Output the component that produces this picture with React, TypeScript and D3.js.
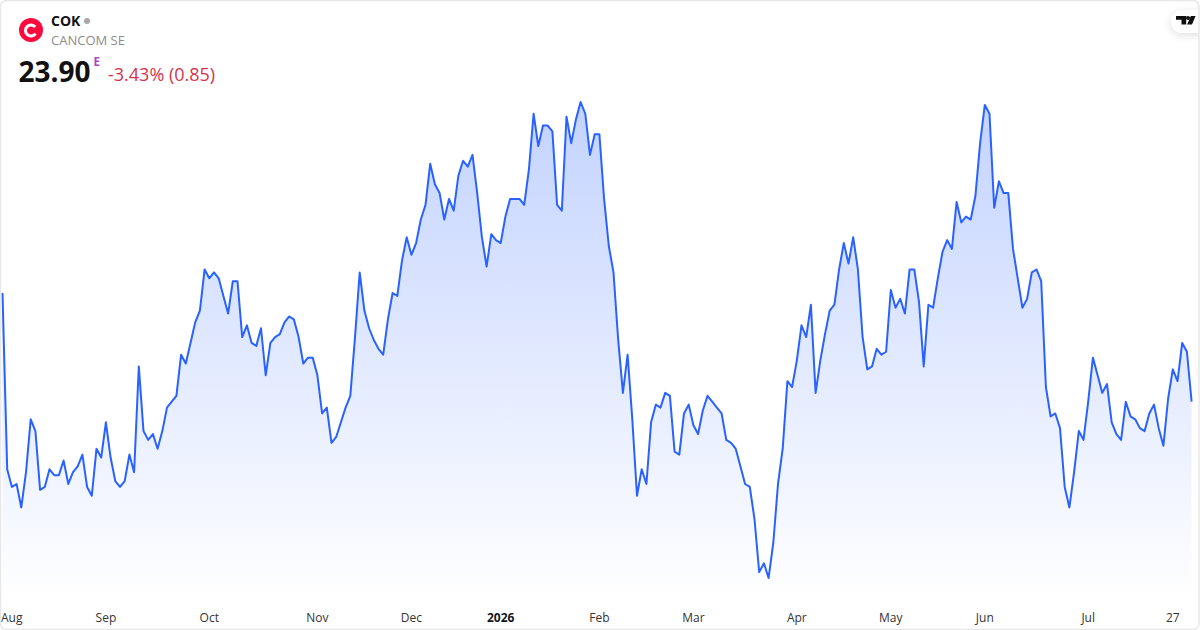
import React from 'react';
import * as d3 from 'd3';

// closing prices per month
const aug = [25.75, 22.75, 22.45, 22.5, 22.1, 22.7, 23.6, 23.4, 22.4, 22.45, 22.75, 22.65, 22.65, 22.9, 22.5, 22.7, 22.8, 23.0, 22.45, 22.3, 23.1, 22.95];
const sep = [23.55, 22.95, 22.55, 22.45, 22.55, 23.0, 22.7, 24.5, 23.4, 23.25, 23.35, 23.1, 23.4, 23.8, 23.9, 24.0, 24.7, 24.55, 24.9, 25.25, 25.45, 26.15];
const oct = [26.0, 26.1, 26.0, 25.7, 25.4, 25.95, 25.95, 25.0, 25.2, 24.9, 24.85, 25.15, 24.35, 24.9, 25.0, 25.05, 25.25, 25.35, 25.3, 25.0, 24.55, 24.65, 24.65];
const nov = [24.35, 23.7, 23.8, 23.2, 23.3, 23.55, 23.8, 24.0, 25.0, 26.1, 25.45, 25.15, 24.95, 24.8, 24.7, 25.3, 25.75, 25.7, 26.3, 26.7];
const dec = [26.4, 26.6, 27.0, 27.25, 27.95, 27.6, 27.45, 27.0, 27.35, 27.15, 27.75, 28.0, 27.9, 28.1, 27.45, 26.7, 26.2, 26.75, 26.65];
const jan = [26.6, 27.05, 27.35, 27.35, 27.35, 27.25, 27.85, 28.8, 28.25, 28.6, 28.6, 28.5, 27.25, 27.15, 28.75, 28.3, 28.7, 29.0, 28.8, 28.1, 28.45];
const feb = [28.45, 27.35, 26.55, 26.1, 24.95, 24.05, 24.7, 23.6, 22.3, 22.75, 22.5, 23.55, 23.85, 23.8, 24.05, 24.0, 23.05, 23.0, 23.7, 23.85];
const mar = [23.5, 23.35, 23.75, 24.0, 23.9, 23.8, 23.7, 23.25, 23.2, 23.1, 22.8, 22.5, 22.45, 21.9, 21.0, 21.15, 20.9, 21.5, 22.5, 23.1, 24.25, 24.15];
const apr = [24.6, 25.2, 25.0, 25.55, 24.05, 24.6, 25.05, 25.45, 25.55, 26.15, 26.6, 26.25, 26.7, 26.15, 25.0, 24.45, 24.5, 24.8, 24.7, 24.75];
const may = [25.8, 25.5, 25.65, 25.4, 26.15, 26.15, 25.6, 24.5, 25.55, 25.5, 26.0, 26.45, 26.65, 26.5, 27.3, 26.95, 27.05, 27.0, 27.4, 28.3];
const jun = [28.95, 28.8, 27.2, 27.65, 27.45, 27.45, 26.5, 26.0, 25.5, 25.65, 26.1, 26.15, 25.95, 24.15, 23.65, 23.7, 23.45, 22.45, 22.1, 22.7, 23.4, 23.25];
const jul = [23.9, 24.65, 24.35, 24.05, 24.2, 23.55, 23.35, 23.25, 23.9, 23.65, 23.6, 23.45, 23.4, 23.7, 23.85, 23.45, 23.15, 23.95, 24.45, 24.25, 24.9, 24.75, 23.9];

const months = [aug, sep, oct, nov, dec, jan, feb, mar, apr, may, jun, jul];
const tickLabels = ['Aug', 'Sep', 'Oct', 'Nov', 'Dec', '2026', 'Feb', 'Mar', 'Apr', 'May', 'Jun', 'Jul', '27'];
const lastTickIndex = 249;

const prices = months.flat();

const FONT = '"Open Sans", sans-serif';
const LINE = '#2962ff';

const x = d3.scaleLinear().domain([0, prices.length - 1]).range([2.5, 1191.6]);
const y = d3.scaleLinear().domain([20.9, 29]).range([578, 102]);

const line = d3.line<number>().x((_, i) => x(i)).y(d => y(d));
const area = d3.area<number>().x((_, i) => x(i)).y0(600).y1(d => y(d));

const monthStart = months.map((_, i) => d3.sum(months.slice(0, i), m => m.length));
const tickIndex = [...monthStart, lastTickIndex];

// C of the company logo, open towards the right
const logoArc = d3
  .arc<any>()
  .innerRadius(4)
  .outerRadius(7)
  .startAngle((125 * Math.PI) / 180)
  .endAngle((410 * Math.PI) / 180);

const App = () => {
  return (
    <svg
      width={1200}
      height={630}
      style={{ position: 'absolute', left: 0, top: 0, fontFamily: FONT }}>
      <defs>
        <linearGradient id="fill" gradientUnits="userSpaceOnUse" x1={0} y1={102} x2={0} y2={600}>
          <stop offset="0" stopColor={LINE} stopOpacity={0.28} />
          <stop offset="1" stopColor={LINE} stopOpacity={0} />
        </linearGradient>
        <filter id="pill" x="-50%" y="-50%" width="200%" height="200%">
          <feDropShadow dx={0} dy={2} stdDeviation={4} floodColor="#000" floodOpacity={0.13} />
        </filter>
        <clipPath id="card">
          <rect x={0} y={0} width={1199} height={630} rx={6} />
        </clipPath>
      </defs>
      <rect x={0} y={0} width={1200} height={630} fill="#fff" />

      <path d={area(prices)} fill="url(#fill)" />
      <path d={line(prices)} fill="none" stroke={LINE} strokeWidth={2} strokeLinejoin="round" />

      {tickLabels.map((label, i) => (
        <text
          key={label}
          x={i === 0 ? 1 : x(tickIndex[i])}
          y={622}
          textAnchor={i === 0 ? 'start' : 'middle'}
          fontSize={12}
          fontWeight={label === '2026' ? 700 : 400}
          fill={label === '2026' ? '#131722' : '#333'}>
          {label}
        </text>
      ))}

      {/* header */}
      <circle cx={31} cy={30} r={12} fill="#ff0a3c" />
      <path d={logoArc(null)} transform="translate(31,30.5)" fill="#fff" />
      <text x={51} y={26} fontSize={14} fontWeight={700} fill="#111">COK</text>
      <circle cx={87} cy={21} r={3} fill="#a8a8a8" />
      <text x={51} y={45} fontSize={13} fill="#8c8c8c">CANCOM SE</text>
      <text x={18.5} y={81.5} fontSize={28} fontWeight={700} fill="#111">23.90</text>
      <text x={93.5} y={65.7} fontSize={11.5} fontWeight={700} fill="#ab47bc">E</text>
      <text x={108} y={81} fontSize={18} fill="#d6334b">-3.43% (0.85)</text>

      {/* tradingview badge */}
      <g clipPath="url(#card)">
        <rect x={1171} y={10} width={50} height={23} rx={11.5} fill="#fff" filter="url(#pill)" />
        <path
          d="M1176 16h10.2v8.5h-4.7v-4.8h-5.5zM1190.8 16h4.8l-3.6 8.5h-4.9z"
          fill="#111"
        />
        <circle cx={1188} cy={18} r={2} fill="#111" />
      </g>

      <rect x={0.5} y={0.5} width={1198.5} height={629} rx={6} fill="none" stroke="#e8e8e8" strokeWidth={1.5} />
    </svg>
  );
};

export default App;
